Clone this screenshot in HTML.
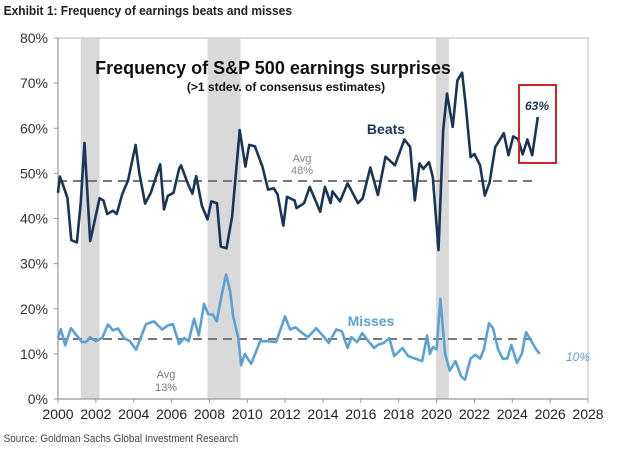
<!DOCTYPE html>
<html><head><meta charset="utf-8"><style>
html,body{margin:0;padding:0;background:#fff;width:624px;height:457px;overflow:hidden}
svg{display:block;font-family:"Liberation Sans",sans-serif}
</style></head><body>
<svg id="chart" width="624" height="457" viewBox="0 0 624 457">
<text x="4" y="15" font-size="13" font-weight="bold" fill="#222" transform="scale(0.92,1)">Exhibit 1: Frequency of earnings beats and misses</text>
<text x="4" y="442" font-size="11" fill="#444" transform="scale(0.9,1) translate(0,0)">Source: Goldman Sachs Global Investment Research</text>
<g id="plot"></g>
</svg>
<script>
const yTicks=[0,10,20,30,40,50,60,70,80];
const xTicks=[2000,2002,2004,2006,2008,2010,2012,2014,2016,2018,2020,2022,2024,2026,2028];
const recessions=[[2001.2,2002.2],[2007.9,2009.65],[2019.97,2020.65]];
const beatsYears=[2000,2000.1,2000.3,2000.5,2000.7,2001.0,2001.2,2001.4,2001.7,2002.2,2002.4,2002.6,2002.9,2003.1,2003.4,2003.7,2004.1,2004.3,2004.6,2004.9,2005.4,2005.6,2005.8,2006.1,2006.4,2006.5,2006.9,2007.1,2007.3,2007.6,2007.9,2008.1,2008.4,2008.6,2008.9,2009.2,2009.6,2009.9,2010.1,2010.4,2010.8,2011.1,2011.4,2011.6,2011.9,2012.1,2012.5,2012.6,2013.0,2013.3,2013.85,2014.1,2014.4,2014.5,2014.9,2015.3,2015.85,2016.1,2016.5,2016.9,2017.3,2017.8,2018.3,2018.6,2018.85,2019.1,2019.3,2019.6,2019.8,2020.1,2020.35,2020.55,2020.85,2021.1,2021.35,2021.55,2021.8,2022.0,2022.3,2022.55,2022.8,2023.1,2023.55,2023.8,2024.05,2024.3,2024.55,2024.8,2025.05,2025.35];
const beatsValues=[45.7,49.3,47,44.5,35.2,34.7,43.4,56.7,35,44.5,44,41,41.7,41,45.5,48.4,56.3,50,43.3,45.7,52,42,45,45.7,51,51.8,47.3,45.5,49.4,42.8,39.8,43.8,43.4,33.8,33.4,40.4,59.6,51.5,56.3,56,51.5,46.4,46.7,45.3,38.4,44.8,44,42.3,43.4,47,41.5,47,43.4,46,43.8,47.8,43.4,44.5,51.3,45.2,53.7,51.8,57.5,55.9,44,52.2,51,52.5,49.2,33,59.6,67.7,60.3,70.6,72.3,64.7,53.6,54.3,51.8,45.1,48,55.8,58.9,54,58.2,57.6,54.2,57.5,54,62.5];
const missYears=[2000,2000.15,2000.38,2000.68,2001.27,2001.48,2001.69,2002.0,2002.33,2002.64,2002.9,2003.17,2003.49,2003.8,2004.12,2004.65,2005.07,2005.5,2005.81,2006.07,2006.4,2006.66,2006.9,2007.19,2007.44,2007.72,2007.93,2008.18,2008.39,2008.63,2008.88,2009.09,2009.26,2009.51,2009.68,2009.87,2010.2,2010.68,2011.06,2011.52,2011.99,2012.26,2012.54,2012.79,2013.2,2013.64,2014.02,2014.3,2014.7,2015.0,2015.3,2015.5,2015.8,2016.07,2016.4,2016.7,2016.9,2017.2,2017.5,2017.76,2018.2,2018.5,2018.9,2019.24,2019.5,2019.65,2019.8,2020.0,2020.2,2020.45,2020.7,2021.0,2021.3,2021.5,2021.8,2022.05,2022.3,2022.5,2022.77,2022.98,2023.25,2023.5,2023.74,2023.95,2024.25,2024.5,2024.73,2025.05,2025.26,2025.45];
const missValues=[13.5,15.5,11.9,15.7,12.6,12.6,13.7,12.8,13.5,16.5,15.2,15.6,13.5,12.8,10.9,16.6,17.2,15.4,16.3,16.6,12.2,13.5,12.8,17.8,14.1,21.1,18.8,18.7,17.2,22.8,27.6,23.9,18.1,13.9,7.5,10,7.8,12.8,12.8,12.6,18.3,15.4,15.9,15,13.7,15.7,13.9,12.4,15.4,15,11.3,13.7,12.6,14.6,12.8,11.3,12,12.4,13.5,9.5,11.3,9.5,8.9,8.4,14.1,10,11.5,11,22.2,10,6.3,8.4,5,4.3,9,9.8,8.9,11,16.8,15.7,11,8.9,9,12,8,10,14.8,12.5,11,10];
const beatsAvg=48.3, missAvg=13.3;

const X0=58,X1=588,Y0=399,YTOP=38;
const xs=y=>X0+(y-2000)/28*(X1-X0);
const ys=v=>Y0-v/80*(Y0-YTOP);
const NS="http://www.w3.org/2000/svg";
const g=document.getElementById('plot');
function mk(t,a,p){const e=document.createElementNS(NS,t);for(const k in a)e.setAttribute(k,a[k]);(p||g).appendChild(e);return e;}

recessions.forEach(r=>{
 const e=mk('rect',{x:xs(r[0]),y:YTOP,width:xs(r[1])-xs(r[0]),height:Y0-YTOP,fill:'#d9d9d9'});
 
 
});
let fr=mk('path',{d:`M${X0},${YTOP}H${X1}V${Y0}`,fill:'none',stroke:'#c8c8c8','stroke-width':1.2});


let ax=mk('path',{d:`M${X0},${YTOP}V${Y0}H${X1}`,fill:'none',stroke:'#999','stroke-width':1.2});


yTicks.forEach(v=>{
 mk('line',{x1:X0-4,x2:X0,y1:ys(v),y2:ys(v),stroke:'#999'});
 const t=mk('text',{x:X0-10,y:ys(v)+5,'text-anchor':'end','font-size':14,fill:'#333'});
 t.textContent=v+'%';
 
 
});
xTicks.forEach(v=>{
 mk('line',{x1:xs(v),x2:xs(v),y1:Y0,y2:Y0+4,stroke:'#999'});
 const t=mk('text',{x:xs(v),y:Y0+20,'text-anchor':'middle','font-size':14,fill:'#222'});
 t.textContent=v;
 
 
});
let a1=mk('line',{x1:X0,x2:533,y1:ys(beatsAvg),y2:ys(beatsAvg),stroke:'#777','stroke-width':2,'stroke-dasharray':'9,6'});


let a2=mk('line',{x1:X0,x2:533,y1:ys(missAvg),y2:ys(missAvg),stroke:'#777','stroke-width':2,'stroke-dasharray':'9,6'});


function line(xsA,vs,col){return mk('path',{d:vs.map((v,i)=>(i?'L':'M')+xs(xsA[i]).toFixed(1)+','+ys(v).toFixed(1)).join(''),fill:'none',stroke:col,'stroke-width':2.6,'stroke-linejoin':'round'});}
let bl=line(beatsYears,beatsValues,'#1b3556');


let ml=line(missYears,missValues,'#5aa2d4');


let box=mk('rect',{x:519,y:85,width:37,height:78,fill:'none',stroke:'#d0242b','stroke-width':2});


function txt(s,x,y,a,name){const t=mk('text',Object.assign({x:x,y:y},a));t.textContent=s;return t;}
txt('Frequency of S&P 500 earnings surprises',273,74,{'text-anchor':'middle','font-size':18,'font-weight':'bold',fill:'#111'},'chart-title');
txt('(>1 stdev. of consensus estimates)',286,91,{'text-anchor':'middle','font-size':12,'font-weight':'bold',fill:'#111'},'chart-subtitle');
txt('Beats',386,134,{'text-anchor':'middle','font-size':14,'font-weight':'bold',fill:'#1b3556'},'beats-label');
txt('Misses',371,326,{'text-anchor':'middle','font-size':14,'font-weight':'bold',fill:'#5aa2d4'},'misses-label');
txt('Avg',302,162,{'text-anchor':'middle','font-size':11,fill:'#888'},'beats-avg-label');
txt('48%',302,174,{'text-anchor':'middle','font-size':11,fill:'#888'},'beats-avg-value');
txt('Avg',166,378,{'text-anchor':'middle','font-size':11,fill:'#777'},'misses-avg-label');
txt('13%',166,391,{'text-anchor':'middle','font-size':11,fill:'#777'},'misses-avg-value');
txt('63%',537,110,{'text-anchor':'middle','font-size':12,'font-weight':'bold','font-style':'italic',fill:'#1b3556'},'latest-beats-value');
txt('10%',578,361,{'text-anchor':'middle','font-size':12,'font-style':'italic',fill:'#5aa2d4'},'latest-misses-value');
</script>
</body></html>
